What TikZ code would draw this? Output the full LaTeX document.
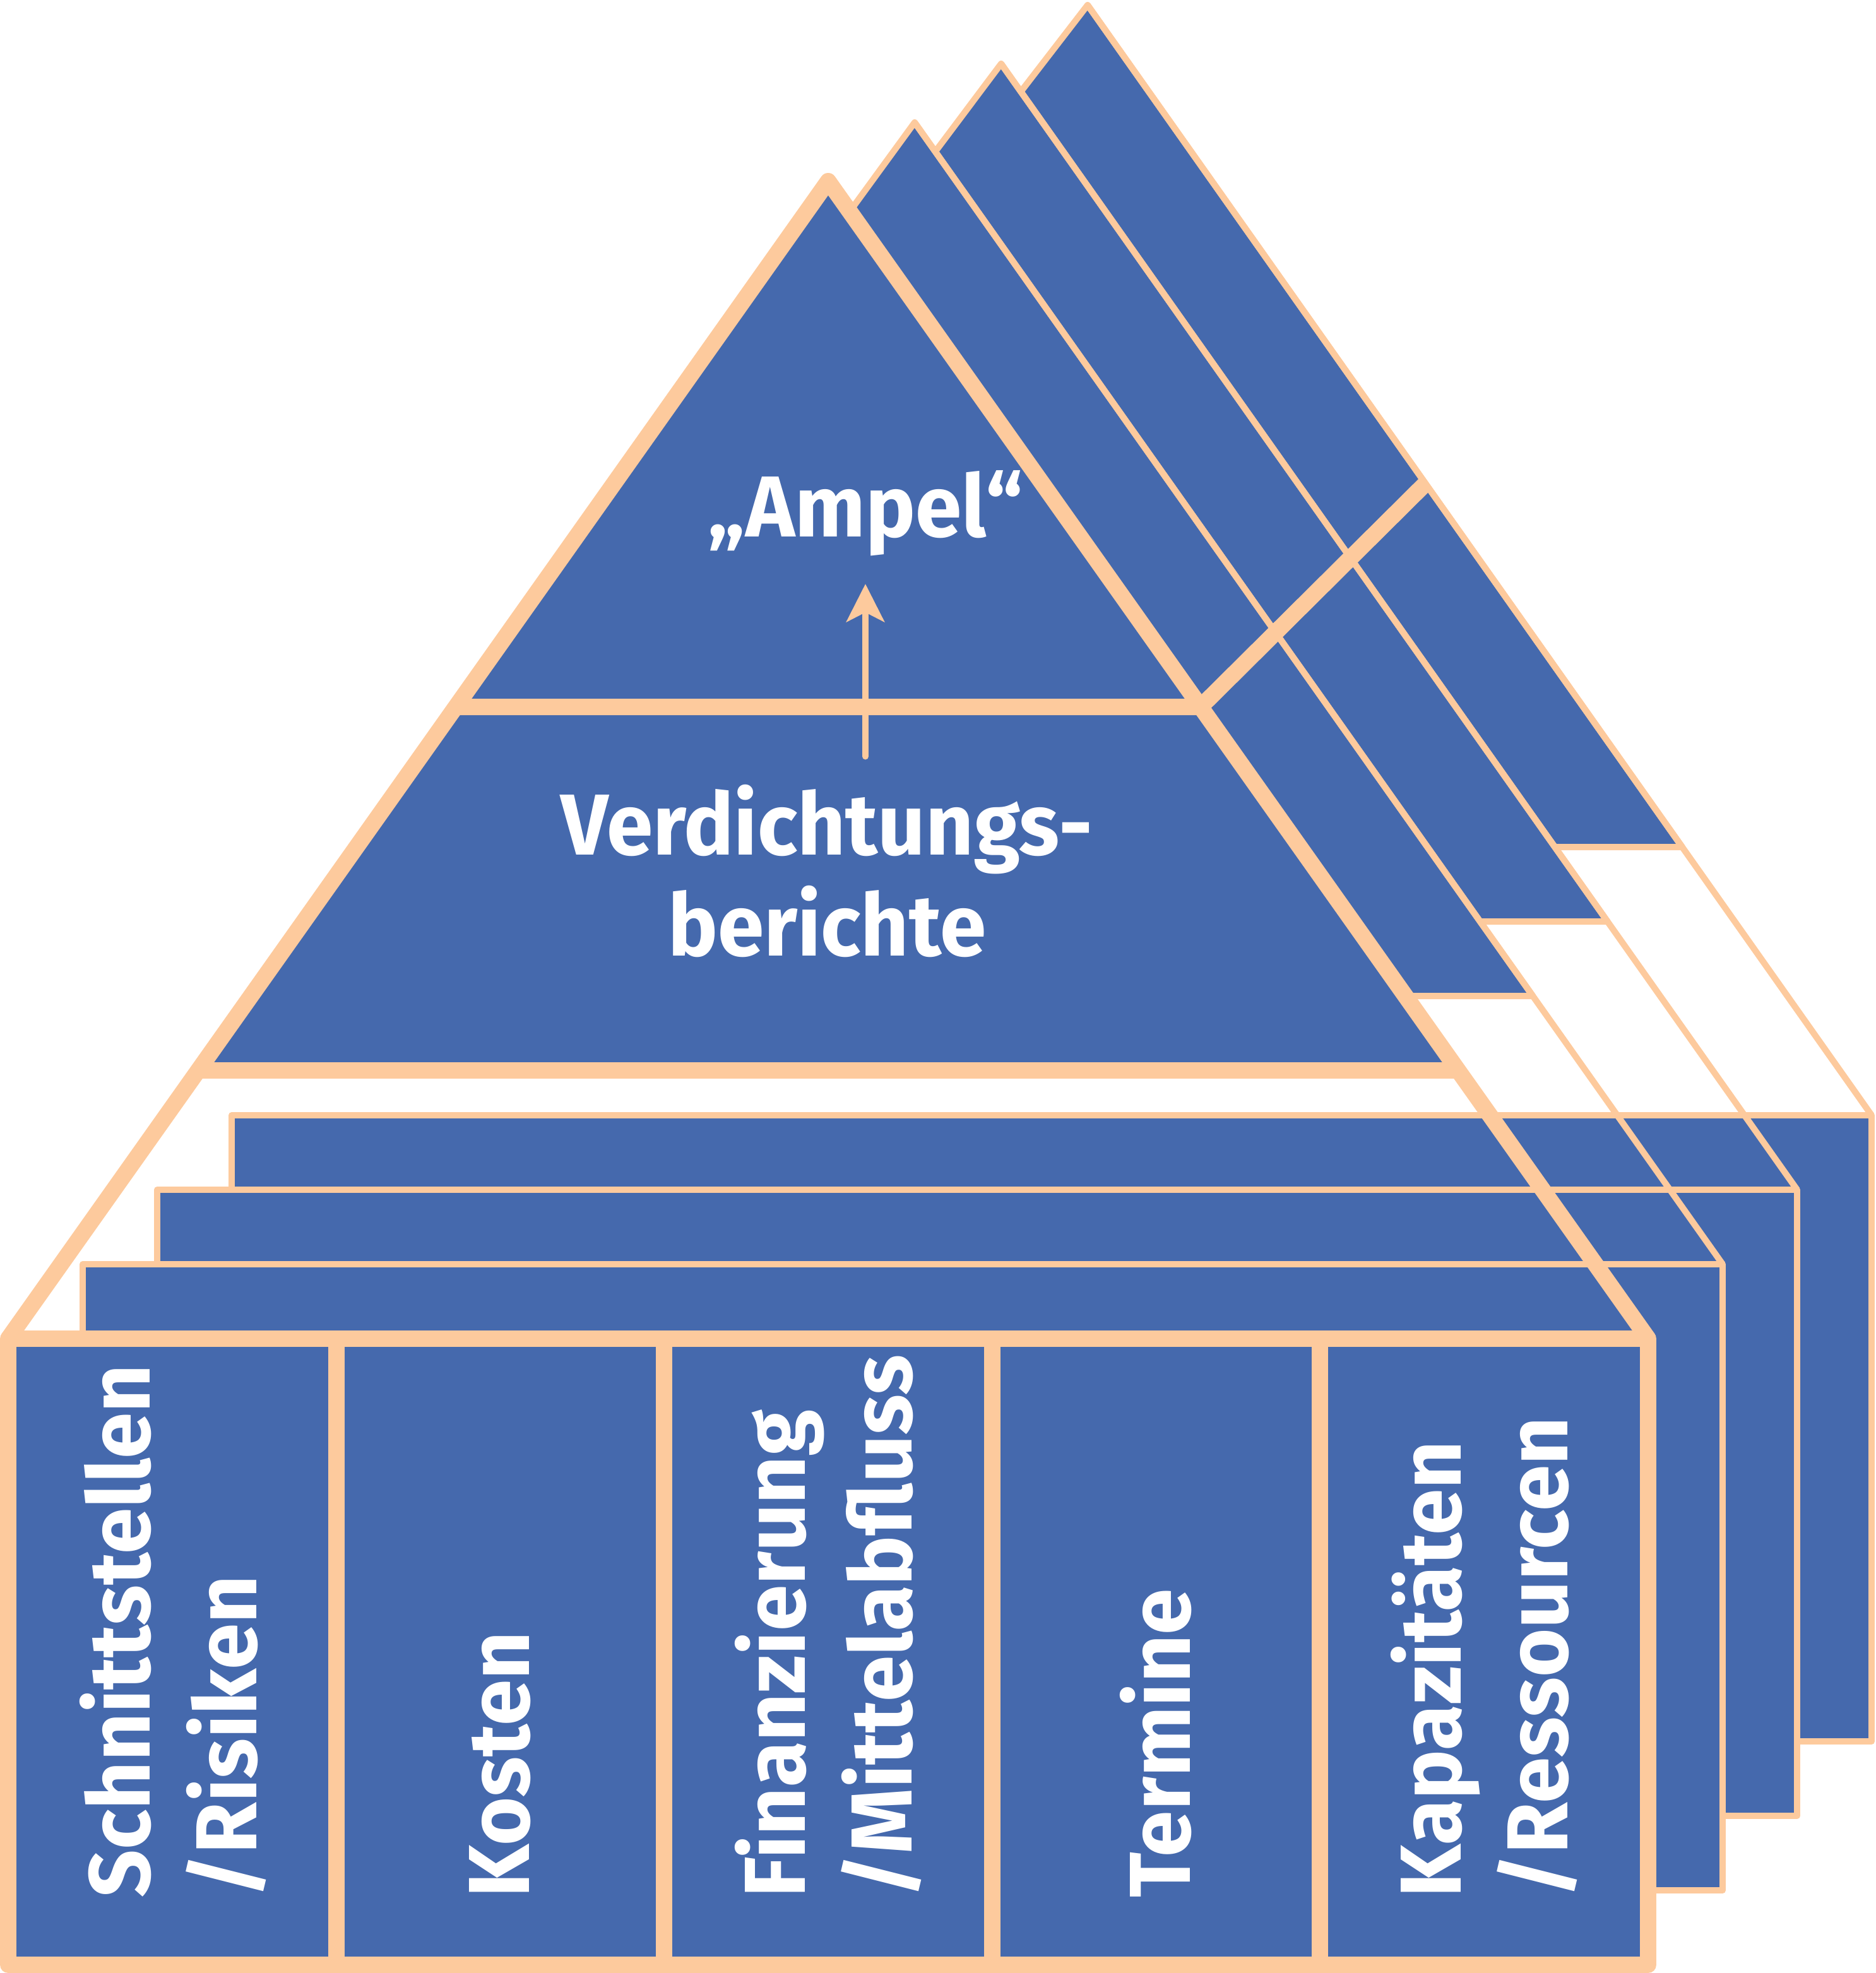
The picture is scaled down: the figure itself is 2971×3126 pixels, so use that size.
\documentclass[tikz,border=0pt]{standalone}
\usepackage{fontspec}
\setmainfont{Fira Sans}[FakeStretch=0.965]
\usetikzlibrary{calc,arrows.meta}
\definecolor{hausblau}{RGB}{69,105,173}
\definecolor{pfirsich}{RGB}{253,202,157}

\begin{document}
\begin{tikzpicture}[x=0.01cm,y=-0.01cm,
  dick/.style={draw=pfirsich,line width=0.26cm,line join=round},
  duenn/.style={draw=pfirsich,line width=0.1cm,line join=round},
  flaeche/.style={fill=hausblau},
  schrift/.style={text=white,font=\fontsize{39}{45.5}\selectfont\bfseries,inner sep=0pt,align=center},
  saeule/.style={schrift,rotate=90,anchor=west,align=left,font=\fontsize{39}{48}\selectfont\bfseries},
  pfeil/.style={draw=pfirsich,line width=0.1cm,line cap=round,shorten <=0.44cm,shorten >=0.44cm,
    -{Stealth[length=0.6cm,width=0.6cm,inset=0.15cm]}}]

  \useasboundingbox (0,0) rectangle (2971,3126);

  % Hintere Ebenen, von hinten nach vorne
  \foreach \k in {3,2,1}{
    \coordinate (S\k) at ({1312+137*\k},{287-93*\k});
    \coordinate (L\k) at ({13+118*\k},{2121-118*\k});
    \coordinate (R\k) at ({2611+118*\k},{2121-118*\k});
    \pgfmathsetmacro{\t}{(1409-25*\k)/(1834-25*\k)}
    \filldraw[flaeche,duenn] (L\k) rectangle ({2611+118*\k},{3113-118*\k});
    \filldraw[flaeche,duenn] ($(S\k)!\t!(L\k)$) -- (S\k) -- ($(S\k)!\t!(R\k)$) -- cycle;
    \draw[duenn] (S\k) -- (R\k);
  }

  % Vorderes Haus
  \coordinate (S0) at (1312,287);
  \coordinate (L0) at (13,2121);
  \coordinate (R0) at (2611,2121);
  \fill[flaeche] ($(S0)!0.7683!(L0)$) -- (S0) -- ($(S0)!0.7683!(R0)$) -- cycle;
  \filldraw[flaeche,dick] (L0) rectangle (2611,3113);
  \foreach \i in {1,...,4}
    \draw[dick] ({13+519.6*\i},2121) -- ({13+519.6*\i},3113);

  % Ampel-Linie, schraeg nach hinten
  \draw[dick] ($(S0)!0.4542!(L0)$) -- ($(S0)!0.4542!(R0)$) -- ($(S3)!0.431!(R3)$);
  % Verdichtungs-Linie
  \draw[dick] ($(S0)!0.7683!(L0)$) -- ($(S0)!0.7683!(R0)$);
  % Dach
  \draw[dick] (L0) -- (S0) -- (R0);

  % Texte
  \node[schrift,anchor=base] (ampel) at (1371,850) {„Ampel“};
  \node[schrift] (verd) at (1310,1380) {Verdichtungs-\\berichte};
  \draw[pfeil] (verd.north -| ampel) -- (ampel.south);

  \node[saeule] (schnitt) at (274,3007) {Schnittstellen\\/Risiken};
  \node[saeule] (kosten) at (792,3007) {Kosten};
  \node[saeule] (finanz) at (1312,3007) {Finanzierung\\/Mittelabfluss};
  \node[saeule] (termine) at (1831,3007) {Termine};
  \node[saeule] (kapaz) at (2351,3007) {Kapazitäten\\/Ressourcen};
\end{tikzpicture}
\end{document}
